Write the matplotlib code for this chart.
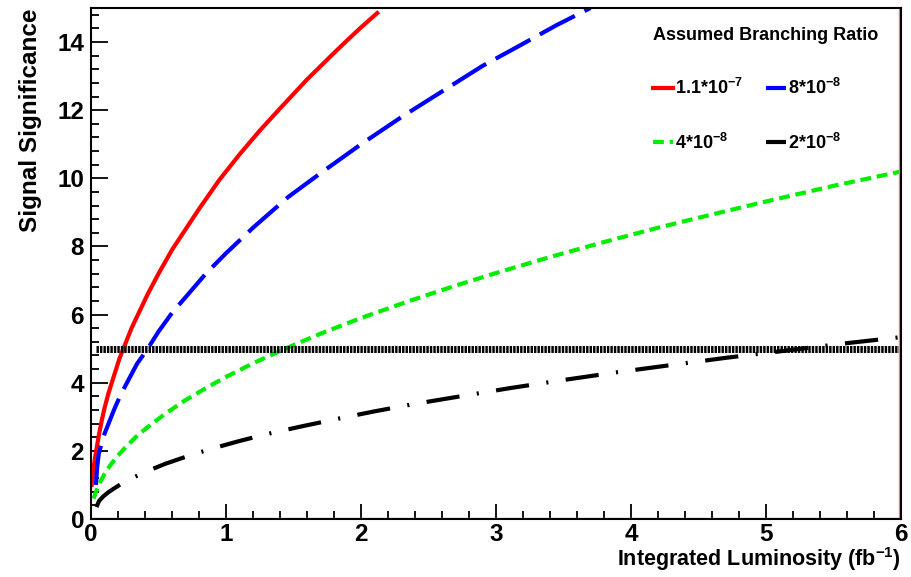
import matplotlib
matplotlib.use("Agg")
import matplotlib.pyplot as plt
from matplotlib.ticker import MultipleLocator

plt.rcParams["font.family"] = ["Liberation Sans", "DejaVu Sans"]
plt.rcParams["font.weight"] = "bold"
plt.rcParams["mathtext.fontset"] = "custom"
plt.rcParams["mathtext.rm"] = "Liberation Sans:bold"
plt.rcParams["mathtext.bf"] = "Liberation Sans:bold"

# values
red_x = [0.005, 0.01, 0.02, 0.03, 0.045, 0.06, 0.08, 0.1, 0.13, 0.17, 0.21, 0.25, 0.3, 0.36,
         0.42, 0.5, 0.6, 0.7, 0.8, 0.95, 1.1, 1.25, 1.4, 1.6, 1.8, 1.9, 2.0, 2.06, 2.12]
red_y = [1.0, 1.2, 1.5, 1.8, 2.15, 2.5, 2.9, 3.25, 3.7, 4.2, 4.7, 5.1, 5.6, 6.1,
         6.6, 7.2, 7.9, 8.5, 9.1, 9.95, 10.7, 11.4, 12.05, 12.9, 13.68, 14.06, 14.43, 14.64, 14.85]

blue_x = [0.037, 0.045, 0.057, 0.077, 0.1, 0.13, 0.17, 0.22, 0.28, 0.34, 0.42, 0.5, 0.6,
          0.72, 0.85, 1.0, 1.2, 1.46, 1.7, 2.0, 2.3, 2.6, 2.9, 3.2, 3.45, 3.7]
blue_y = [1.0, 1.5, 1.9, 2.2, 2.5, 2.8, 3.2, 3.65, 4.1, 4.55, 5.0, 5.5, 6.05,
          6.6, 7.2, 7.8, 8.55, 9.45, 10.15, 11.0, 11.8, 12.55, 13.3, 13.95, 14.5, 15.0]

green_x = [0.02, 0.035, 0.05, 0.07, 0.1, 0.14, 0.19, 0.25, 0.33, 0.42, 0.55, 0.7, 0.85, 1.0,
           1.2, 1.45, 1.7, 2.0, 2.35, 2.7, 3.0, 3.4, 3.8, 4.2, 4.6, 5.0, 5.5, 6.0]
green_y = [0.6, 0.78, 0.93, 1.1, 1.32, 1.56, 1.82, 2.08, 2.4, 2.7, 3.09, 3.49, 3.84, 4.17,
           4.57, 5.02, 5.44, 5.9, 6.39, 6.85, 7.22, 7.69, 8.13, 8.55, 8.94, 9.32, 9.78, 10.2]

black_x = [0.04, 0.06, 0.09, 0.13, 0.18, 0.24, 0.32, 0.42, 0.55, 0.72, 0.9, 1.1, 1.3,
           1.55, 1.8, 2.1, 2.4, 2.75, 3.1, 3.5, 3.9, 4.3, 4.7, 5.1, 5.55, 5.98]
black_y = [0.35, 0.53, 0.66, 0.79, 0.92, 1.07, 1.23, 1.41, 1.62, 1.85, 2.07, 2.29, 2.49,
           2.71, 2.92, 3.16, 3.38, 3.61, 3.84, 4.08, 4.31, 4.52, 4.73, 4.92, 5.14, 5.33]

threshold = 5
thr_x = [0.04, 6]

labels = [r"$1.1{*}10^{-7}$", r"$8{*}10^{-8}$", r"$4{*}10^{-8}$", r"$2{*}10^{-8}$"]

fig = plt.figure(figsize=(9.12, 5.77), dpi=100)
ax = fig.add_axes([91 / 912, 1 - 519 / 577, 810 / 912, 511 / 577])

l1, = ax.plot(red_x, red_y, color="#ff0000", lw=3)
l2, = ax.plot(blue_x, blue_y, color="#0000ff", lw=3, linestyle=(0, (9.5, 2.6)))
l3, = ax.plot(green_x, green_y, color="#00ee00", lw=3, linestyle=(0, (2.6, 1.4)))
l4, = ax.plot(black_x, black_y, color="black", lw=3, linestyle=(0, (8, 4.2, 0.5, 4.2)))
ax.plot(thr_x, [threshold, threshold], color="black", lw=5, linestyle=(0, (0.35, 0.15)))

ax.set_xlim(0, 6)
ax.set_ylim(0, 15)
ax.xaxis.set_major_locator(MultipleLocator(1))
ax.xaxis.set_minor_locator(MultipleLocator(0.2))
ax.yaxis.set_major_locator(MultipleLocator(2))
ax.yaxis.set_minor_locator(MultipleLocator(0.4))
ax.tick_params(which="both", direction="in", top=False, right=False, width=1.3, labelsize=17.5)
ax.tick_params(axis="y", which="major", length=12, pad=5)
ax.tick_params(axis="y", which="minor", length=6)
ax.tick_params(axis="x", which="major", length=11, pad=3)
ax.tick_params(axis="x", which="minor", length=6)
for s in ax.spines.values():
    s.set_linewidth(1.5)

ax.axhline(0.02, color="#ff8080", lw=1)
ax.axvline(5.985, color="#ff8080", lw=1)

ax.set_xlabel(r"Integrated Luminosity (fb$^{-1}$)", fontsize=15.5, fontweight="bold", loc="right", labelpad=-0.5)
ax.set_ylabel("Signal Significance", fontsize=17.5, fontweight="bold", loc="top", labelpad=11)

leg = ax.legend([l1, l3, l2, l4], [labels[0], labels[2], labels[1], labels[3]], ncol=2,
                frameon=False, title="Assumed Branching Ratio",
                title_fontproperties={"weight": "bold", "size": 13}, alignment="left",
                fontsize=13, handlelength=1.1, handletextpad=0.1, columnspacing=1.3,
                labelspacing=1.9, borderpad=0, borderaxespad=0,
                loc="upper left", bbox_to_anchor=(653 / 912, 1 - 27 / 577),
                bbox_transform=fig.transFigure)

fig.savefig("out.png", dpi=100)
